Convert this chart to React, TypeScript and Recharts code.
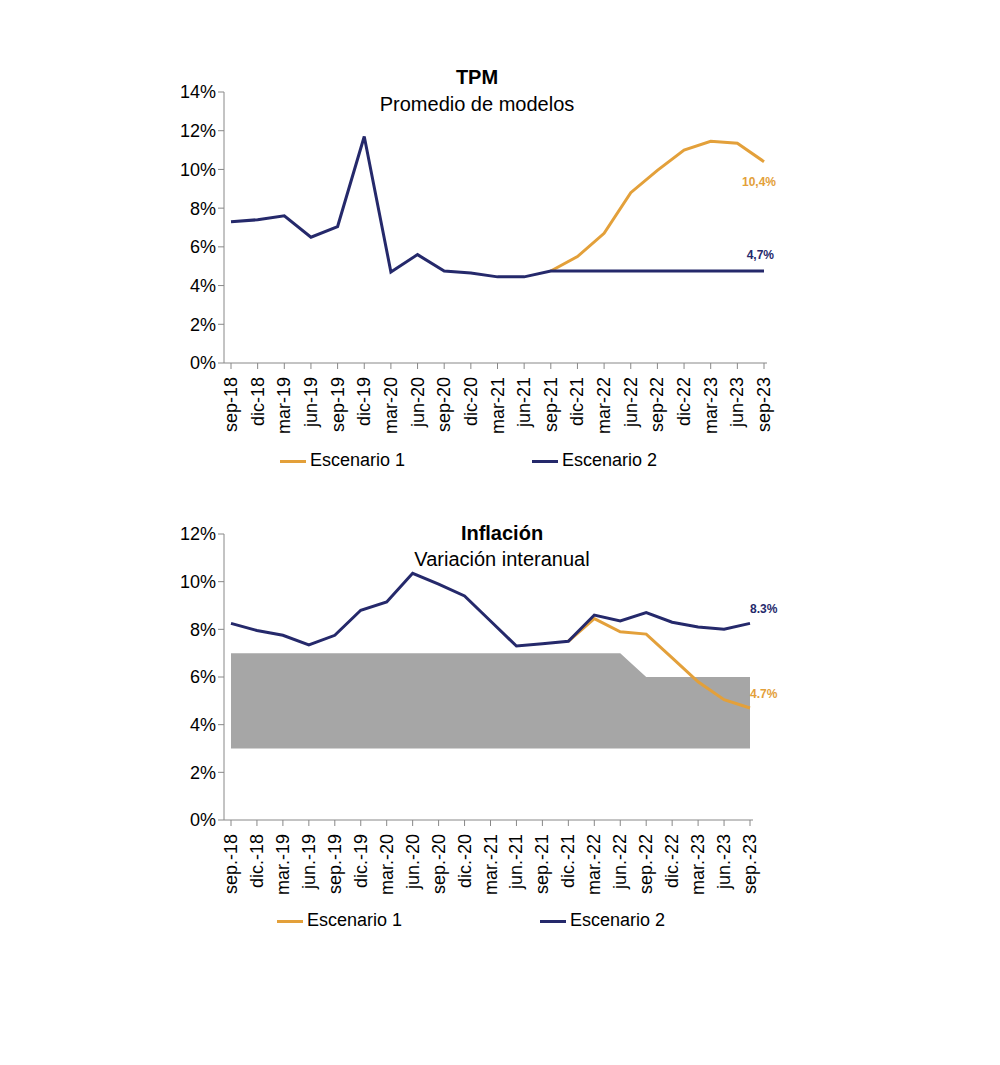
import { ComposedChart, Line, Area, XAxis, YAxis, LabelList } from "recharts";

const tpmDates = ["sep-18","dic-18","mar-19","jun-19","sep-19","dic-19","mar-20","jun-20","sep-20","dic-20","mar-21","jun-21","sep-21","dic-21","mar-22","jun-22","sep-22","dic-22","mar-23","jun-23","sep-23"];
const tpmEsc2 = [7.3,7.4,7.6,6.5,7.05,11.7,4.7,5.6,4.75,4.65,4.45,4.45,4.75,4.75,4.75,4.75,4.75,4.75,4.75,4.75,4.75];
const tpmEsc1 = [null,null,null,null,null,null,null,null,null,null,null,null,4.75,5.5,6.7,8.8,9.95,11.0,11.45,11.35,10.4];

const infDates = ["sep.-18","dic.-18","mar.-19","jun.-19","sep.-19","dic.-19","mar.-20","jun.-20","sep.-20","dic.-20","mar.-21","jun.-21","sep.-21","dic.-21","mar.-22","jun.-22","sep.-22","dic.-22","mar.-23","jun.-23","sep.-23"];
const infEsc2 = [8.25,7.95,7.75,7.35,7.75,8.8,9.15,10.35,9.9,9.4,8.35,7.3,7.4,7.5,8.6,8.35,8.7,8.3,8.1,8.0,8.25];
const infEsc1 = [null,null,null,null,null,null,null,null,null,null,null,null,null,7.5,8.45,7.9,7.8,6.8,5.8,5.05,4.7];
const bandLow = [3,3,3,3,3,3,3,3,3,3,3,3,3,3,3,3,3,3,3,3,3];
const bandHigh = [7,7,7,7,7,7,7,7,7,7,7,7,7,7,7,7,6,6,6,6,6];

const ORANGE = "#e3a03a";
const NAVY = "#25296b";
const FONT = "'Liberation Sans', Arial, sans-serif";

const tpmData = tpmDates.map((d, i) => ({ d, e1: tpmEsc1[i], e2: tpmEsc2[i] }));
const infData = infDates.map((d, i) => ({ d, e1: infEsc1[i], e2: infEsc2[i], lo: bandLow[i], w: bandHigh[i] - bandLow[i] }));

const VTick = (props: any) => {
  const { x, y, payload } = props;
  return (
    <text x={x} y={y + 6} transform={`rotate(-90 ${x} ${y + 6})`} textAnchor="end" dominantBaseline="central" fontSize={18} fill="#000" fontFamily={FONT}>
      {payload.value}
    </text>
  );
};

const lastLabel = (text: string, color: string, dx: number, dy: number, anchor: string) => (props: any) => {
  const { x, y, index } = props;
  if (index !== 20) return null;
  return (
    <text x={x + dx} y={y + dy} textAnchor={anchor} fontSize={12} fontWeight="bold" fill={color} fontFamily={FONT}>
      {text}
    </text>
  );
};

const LegendRow = ({ top, x1, x2 }: { top: number; x1: number; x2: number }) => (
  <div style={{ position: "absolute", top, left: 0, fontFamily: FONT, fontSize: 18 }}>
    <div style={{ position: "absolute", left: x1, top: 10, width: 26, height: 3, background: ORANGE }} />
    <div style={{ position: "absolute", left: x1 + 30, top: 0, whiteSpace: "nowrap" }}>Escenario 1</div>
    <div style={{ position: "absolute", left: x2, top: 10, width: 26, height: 3, background: NAVY }} />
    <div style={{ position: "absolute", left: x2 + 30, top: 0, whiteSpace: "nowrap" }}>Escenario 2</div>
  </div>
);

export default function App() {
  return (
    <div style={{ position: "relative", width: 1000, height: 1065, background: "#fff", fontFamily: FONT, margin: -8 }}>
      <div style={{ position: "absolute", left: 140, top: 60 }}>
        <ComposedChart width={800} height={420} data={tpmData} margin={{ top: 32, right: 173, left: 34, bottom: 37 }}>
          <XAxis dataKey="d" interval={0} height={80} tick={<VTick />} stroke="#888" padding={{ left: 7, right: 3 }} />
          <YAxis width={50} domain={[0, 14]} ticks={[0, 2, 4, 6, 8, 10, 12, 14]} tickFormatter={(v) => `${v}%`} stroke="#888" tick={{ fill: "#000", fontSize: 18, fontFamily: FONT }} />
          <Line dataKey="e1" stroke={ORANGE} strokeWidth={3} dot={false} isAnimationActive={false} connectNulls={false}>
            <LabelList content={lastLabel("10,4%", ORANGE, 12, 24, "end")} />
          </Line>
          <Line dataKey="e2" stroke={NAVY} strokeWidth={3} dot={false} isAnimationActive={false}>
            <LabelList content={lastLabel("4,7%", NAVY, 10, -12, "end")} />
          </Line>
          <text x={337} y={24} textAnchor="middle" fontSize={20} fontWeight="bold" fontFamily={FONT}>TPM</text>
          <text x={337} y={51} textAnchor="middle" fontSize={20} fontFamily={FONT}>Promedio de modelos</text>
        </ComposedChart>
      </div>
      <LegendRow top={450} x1={280} x2={532} />

      <div style={{ position: "absolute", left: 140, top: 500 }}>
        <ComposedChart width={800} height={440} data={infData} margin={{ top: 34, right: 187, left: 34, bottom: 40 }}>
          <XAxis dataKey="d" interval={0} height={80} tick={<VTick />} stroke="#888" padding={{ left: 7, right: 3 }} />
          <YAxis width={50} domain={[0, 12]} ticks={[0, 2, 4, 6, 8, 10, 12]} tickFormatter={(v) => `${v}%`} stroke="#888" tick={{ fill: "#000", fontSize: 18, fontFamily: FONT }} />
          <Area dataKey="lo" stackId="b" stroke="none" fill="transparent" isAnimationActive={false} />
          <Area dataKey="w" stackId="b" stroke="none" fill="#a6a6a6" fillOpacity={1} isAnimationActive={false} />
          <Line dataKey="e1" stroke={ORANGE} strokeWidth={3} dot={false} isAnimationActive={false}>
            <LabelList content={lastLabel("4.7%", ORANGE, 0, -10, "start")} />
          </Line>
          <Line dataKey="e2" stroke={NAVY} strokeWidth={3} dot={false} isAnimationActive={false}>
            <LabelList content={lastLabel("8.3%", NAVY, 0, -10, "start")} />
          </Line>
          <text x={362} y={40} textAnchor="middle" fontSize={20} fontWeight="bold" fontFamily={FONT}>Inflación</text>
          <text x={362} y={66} textAnchor="middle" fontSize={20} fontFamily={FONT}>Variación interanual</text>
        </ComposedChart>
      </div>
      <LegendRow top={910} x1={277} x2={540} />
    </div>
  );
}
